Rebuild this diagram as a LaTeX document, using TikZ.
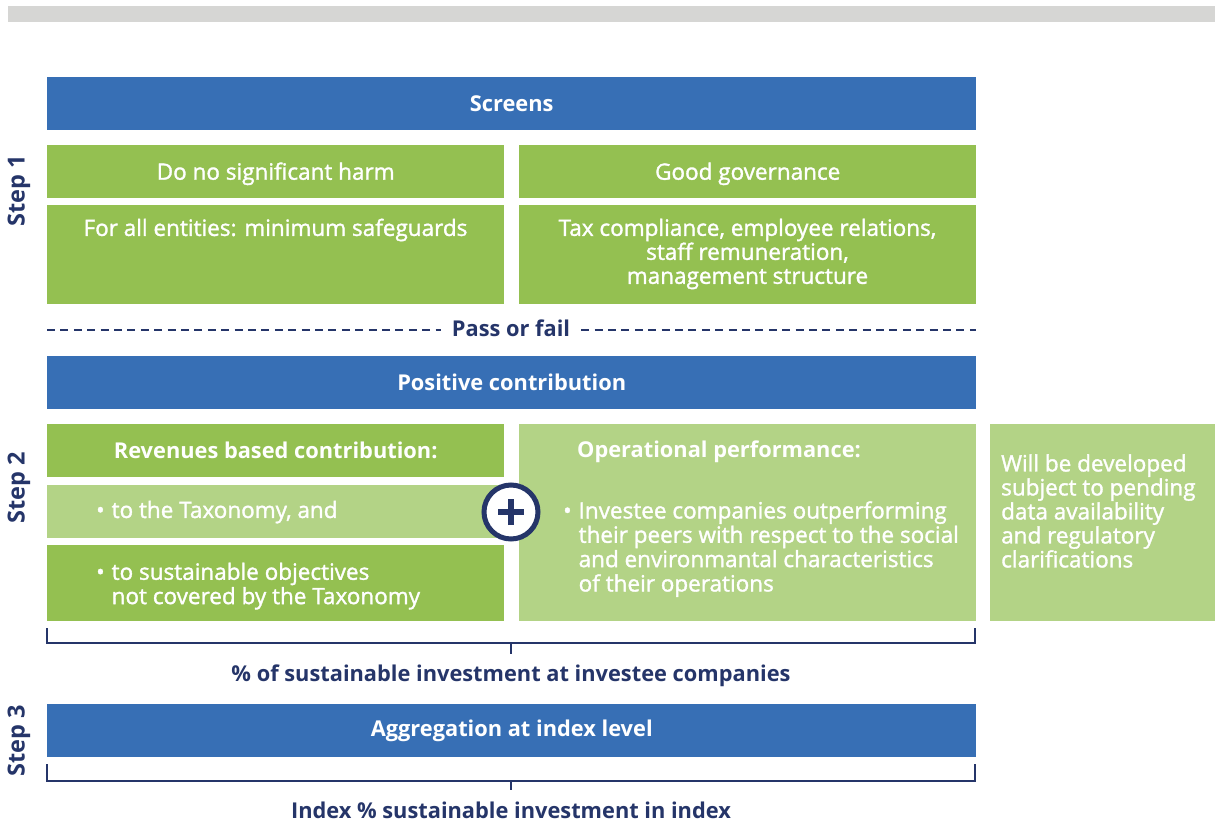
\documentclass[tikz,border=0pt]{standalone}
\usepackage{fontspec}
\setmainfont{Open Sans}
\newfontfamily\semibold{Open Sans}[FakeBold=1.5]

\definecolor{barblue}{HTML}{376FB5}
\definecolor{leafgreen}{HTML}{94C051}
\definecolor{palegreen}{HTML}{B3D386}
\definecolor{navy}{HTML}{253569}
\definecolor{topgray}{HTML}{D6D6D4}

\newcommand{\bodyfont}{\fontsize{22.5}{24}\selectfont\semibold}
\newcommand{\headfont}{\fontsize{21.8}{24}\selectfont\bfseries}
\newcommand{\bitem}[1]{\begin{tabular}{@{}l@{\hspace{7pt}}l@{}}\textbullet & #1\end{tabular}}

\begin{document}
\begin{tikzpicture}[x=1pt,y=-1pt,
  box/.style={anchor=north west, inner sep=0pt, text=white, minimum width=457pt},
  bluebar/.style={box, fill=barblue, minimum width=929pt, minimum height=53pt, font=\headfont},
  greenbox/.style={box, fill=leafgreen, font=\bodyfont},
  lightbox/.style={box, fill=palegreen, font=\bodyfont},
  wtext/.style={text=white, inner sep=0pt, font=\bodyfont},
  navytext/.style={text=navy, inner sep=0pt, font=\headfont},
  steplabel/.style={text=navy, rotate=90, inner sep=0pt, font=\fontsize{23.5}{24}\selectfont\bfseries},
  passline/.style={navy, line width=2.4pt, dash pattern=on 8pt off 5.4pt},
  bracket/.style={navy, line width=2pt},
  plus/.style={circle, draw=navy, fill=white, line width=5pt, minimum size=54pt, inner sep=0pt},
  plusbar/.style={navy, line width=5.5pt}]
\useasboundingbox (0,0) rectangle (1215,821);

\fill[topgray] (8,6) rectangle (1215,22); % top band

% step 1
\node[steplabel] (step1) at (19,191) {Step 1};
\node[bluebar] (screens) at (47,77) {Screens};
\node[greenbox, minimum height=53pt, text height=20pt, text depth=4pt] (harm) at (47,145) {Do no significant harm};
\node[greenbox, minimum height=53pt, text height=20pt, text depth=4pt] (govern) at (519,145) {Good governance};
\node[greenbox, minimum height=99pt] (safeguard) at (47,205) {};
\node[greenbox, minimum height=99pt] (taxbox) at (519,205) {};
\node[wtext] (safeguardtxt) at (275.5,230) {For all entities: minimum safeguards};
\node[wtext, align=center] (taxtxt) at (747.5,254) {Tax compliance, employee relations,\\staff remuneration,\\management structure};

% pass or fail
\node[navytext, inner xsep=11pt] (pass) at (511,328) {Pass or fail};
\draw[passline] (47,330) -- (pass.west |- 0,330);
\draw[passline] (pass.east |- 0,330) -- (976,330);

% step 2
\node[steplabel] (step2) at (19,488) {Step 2};
\node[bluebar] (positive) at (47,356) {Positive contribution};
\node[greenbox, minimum height=53pt, font=\headfont] (revenue) at (47,424) {Revenues based contribution:};
\node[lightbox, minimum height=53pt] (taxonomy) at (47,485) {};
\node[greenbox, minimum height=76pt] (objective) at (47,545) {};
\node[lightbox, minimum height=197pt] (operational) at (519,424) {};
\node[lightbox, minimum width=225pt, minimum height=197pt] (pending) at (990,424) {};

\node[wtext, anchor=west] (taxonomytxt) at (96,513) {\bitem{to the Taxonomy, and}};
\node[wtext, anchor=west] (objectivetxt) at (96,587) {\bitem{to sustainable objectives\\ & not covered by the Taxonomy}};
\node[wtext, anchor=west, font=\headfont] (operationalhead) at (577,452) {Operational performance:};
\node[wtext, anchor=west] (operationaltxt) at (563,550) {\bitem{Investee companies outperforming\\ & their peers with respect to the social\\ & and environmantal characteristics\\ & of their operations}};
\node[wtext, anchor=west, align=left] (pendingtxt) at (1001,511) {Will be developed\\subject to pending\\data availability\\and regulatory\\clarifications};

\node[plus] (plus) at (511,512) {};
\draw[plusbar] ([xshift=-13pt]plus.center) -- ([xshift=13pt]plus.center);
\draw[plusbar] ([yshift=-13pt]plus.center) -- ([yshift=13pt]plus.center);

% bracket 1
\draw[bracket] (47,628) |- (975,643) -- (975,628);
\draw[bracket] (511,643) -- (511,654);
\node[navytext] (share) at (511,676) {\% of sustainable investment at investee companies};

% step 3
\node[steplabel] (step3) at (19,741) {Step 3};
\node[bluebar] (aggregate) at (47,704) {Aggregation at index level};
\draw[bracket] (47,764) |- (975,781) -- (975,764);
\draw[bracket] (511,781) -- (511,790);
\node[navytext] (index) at (511,810) {Index \% sustainable investment in index};
\end{tikzpicture}
\end{document}
